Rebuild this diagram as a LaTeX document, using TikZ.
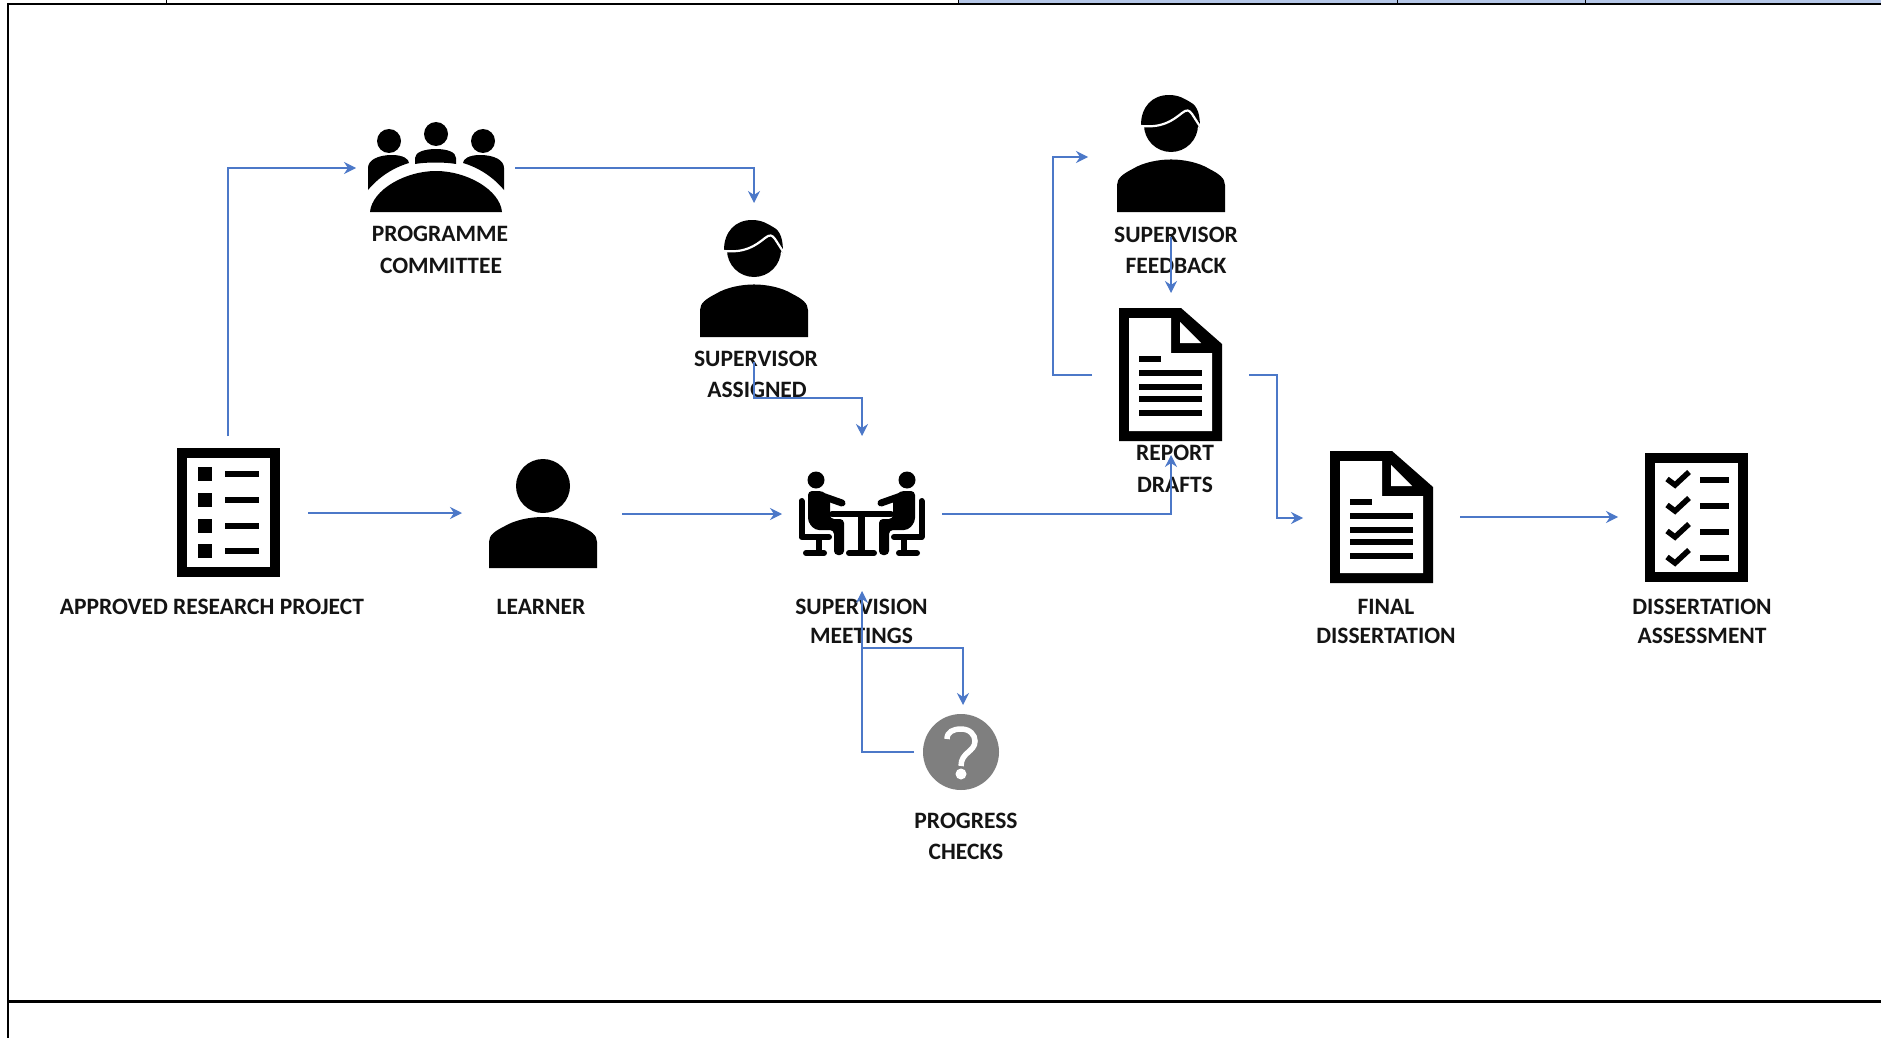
\documentclass[tikz,border=0pt]{standalone}
\usepackage{fontspec}
\setmainfont{Carlito}
\usetikzlibrary{arrows.meta}
\definecolor{linkblue}{HTML}{4C78C8}
\definecolor{headblue}{HTML}{B4C6E7}
\definecolor{markgray}{HTML}{7F7F7F}
\tikzset{
  flow/.style={draw=linkblue,line width=1.2pt,line join=miter,-{Stealth[length=12pt,width=12pt,inset=4pt]}},
  lbl/.style={anchor=base,inner sep=0pt,font=\fontsize{23.5}{26}\selectfont\bfseries,text=black!92},
  rule/.style={draw=black,line width=2.4pt},
  tick/.style={draw=black,line width=.8pt},
  seat/.style={draw=black,line width=6pt,line cap=round,line join=round}
}
\newcommand{\docicon}[3]{%
  \begin{scope}[shift={(#1,#2)}]
    \fill[black] (0,0) -- (62,0) -- (103,36) -- (103,#3) -- (0,#3) -- cycle;
    \fill[white] (10,10) -- (52,10) -- (52,45) -- (93,45) -- (93,{#3-10}) -- (10,{#3-10}) -- cycle;
    \fill[white] (61,14) -- (61,35) -- (82,35) -- cycle;
    \fill[black] (20,48) rectangle (42,54);
    \foreach \yy in {62,76,88,102} \fill[black] (20,\yy) rectangle (83,\yy+6);
  \end{scope}}
% person's shoulders: local origin is the bottom left corner, 108 wide, 51 high
\newcommand{\bodyshape}[3]{%
  \begin{scope}[shift={(#1,#2)},yscale=#3]
    \fill[black] (0,0) -- (0,-26) .. controls (0,-33) and (6,-37) .. (16,-42)
      .. controls (26,-48) and (41,-51) .. (54,-51)
      .. controls (67,-51) and (82,-48) .. (92,-42)
      .. controls (102,-37) and (108,-33) .. (108,-26) -- (108,0) -- cycle;
  \end{scope}}
\newcommand{\supicon}[2]{%
  \begin{scope}[shift={(#1,#2)}]
    \bodyshape{700}{337}{1.03}
    \fill[black] (754,250) circle (27);
    \fill[black] (724,250) .. controls (724,232) and (735,220) .. (752,220)
      .. controls (762,220) and (768,224) .. (773,227) .. controls (781,231) and (783,240) .. (783,253)
      -- (770,240) -- (745,250) -- cycle;
    \draw[white,line width=2.2pt] (724,251) .. controls (745,253) and (755,246) .. (765,238)
      .. controls (770,234) and (772,235) .. (775,239) -- (784,253);
  \end{scope}}
\newcommand{\listframe}[2]{%
  \fill[black] (#1,#2) rectangle ++(103,129);
  \fill[white] ({#1+10},{#2+10}) rectangle ++(83,109);}
\begin{document}
\begin{tikzpicture}[x=1pt,y=-1pt]
\useasboundingbox (0,0) rectangle (1881,1038);
\fill[white] (0,0) rectangle (1881,1038);

% table remains
\fill[headblue] (958,0) rectangle (1881,3);
\foreach \xx in {166,958,1397,1585} \draw[tick] (\xx,0) -- (\xx,3);
\draw[rule] (7,4) -- (1881,4);
\draw[rule] (7,1001.5) -- (1881,1001.5);
\draw[rule] (7.8,3) -- (7.8,1038);

% approved project icon
\listframe{177}{448}
\foreach \yy in {467,493,519,544}{
  \fill[black] (198,\yy) rectangle ++(14,14);
  \fill[black] (225,\yy+4) rectangle ++(34,6);}

% assessment icon
\listframe{1645}{453}
\foreach \yy in {479,505,531,557}{
  \draw[black,line width=5.5pt] (1667,\yy) -- (1675,\yy+6) -- (1689,\yy-7);
  \fill[black] (1700,\yy-2) rectangle ++(29,6);}

% documents
\docicon{1119}{308}{133}
\docicon{1330}{451}{132}

% people
\supicon{0}{0}
\supicon{417}{-125}
\bodyshape{489}{568}{1}
\fill[black] (543,486) circle (27);

% committee
\fill[black] (389,141) circle (12);
\fill[black] (436,134) circle (12);
\fill[black] (483,141) circle (12);
\fill[black] (370,212) .. controls (372,190) and (405,171) .. (436,171)
  .. controls (467,171) and (500,190) .. (502,212) -- cycle;
\fill[black] (415,164) -- (415,158) .. controls (415,152) and (425,149) .. (436,149)
  .. controls (447,149) and (456,152) .. (456,158) -- (456,164)
  .. controls (445,162) and (426,162) .. (415,164) -- cycle;
\foreach \sx/\off in {1/0,-1/872}{
  \begin{scope}[xshift=\off,xscale=\sx]
    \fill[black] (368,190) -- (368,168) .. controls (368,160) and (378,155) .. (392,155)
      .. controls (403,155) and (409,159) .. (409,163)
      .. controls (392,168) and (378,178) .. (368,190) -- cycle;
  \end{scope}}

% meeting icon
\foreach \sx/\off in {1/0,-1/1723}{
  \begin{scope}[xshift=\off,xscale=\sx]
    \fill[black] (816,480) circle (8.5);
    \draw[seat] (801.5,501) -- (801.5,537) -- (829,537);
    \draw[seat] (819,537) -- (819,553);
    \draw[seat] (806,553) -- (824,553);
    \fill[black,rounded corners=4pt] (808,491) -- (823,491) -- (830,498) -- (830,519) -- (844,519) -- (844,555) -- (834,555) -- (834,530) -- (815,530) -- (808,522) -- cycle;
    \draw[black,line width=7pt,line cap=round] (825,497) -- (842,503);
  \end{scope}}
\draw[seat] (832,514) -- (891,514);
\draw[black,line width=6.5pt] (861.5,514) -- (861.5,553);
\draw[seat] (849,553) -- (874,553);

% question icon
\fill[markgray] (961,752) circle (38);
\draw[white,line width=5.5pt] (947,739) .. controls (947,732) and (953,729) .. (961,729)
  .. controls (970,729) and (975,735) .. (975,741) .. controls (975,752) and (961,752) .. (961,766);
\fill[white] (961,774) circle (5.5);

% labels
\node[lbl] (nApproved) at (212,614) {APPROVED RESEARCH PROJECT};
\node[lbl] (nLearner) at (541,614) {LEARNER};
\node[lbl] (nMeetA) at (861.5,614) {SUPERVISION};
\node[lbl] (nMeetB) at (861.5,643) {MEETINGS};
\node[lbl] (nFinalA) at (1386,614) {FINAL};
\node[lbl] (nFinalB) at (1386,643) {DISSERTATION};
\node[lbl] (nAssessA) at (1702,614) {DISSERTATION};
\node[lbl] (nAssessB) at (1702,643) {ASSESSMENT};
\node[lbl] (nProgA) at (966,828) {PROGRESS};
\node[lbl] (nProgB) at (966,859) {CHECKS};
\node[lbl] (nCommA) at (440,241) {PROGRAMME};
\node[lbl] (nCommB) at (441,273) {COMMITTEE};
\node[lbl] (nSupA) at (756,366) {SUPERVISOR};
\node[lbl] (nSupB) at (757,397) {ASSIGNED};
\node[lbl] (nFeedA) at (1176,242) {SUPERVISOR};
\node[lbl] (nFeedB) at (1176,273) {FEEDBACK};
\node[lbl] (nDraftA) at (1175,460) {REPORT};
\node[lbl] (nDraftB) at (1175,492) {DRAFTS};

% connector ends
\coordinate (aUp) at (228,436);
\coordinate (cIn) at (356,168);
\coordinate (cOut) at (515,168);
\coordinate (sIn) at (754,203);
\coordinate (sOut) at (754,362);
\coordinate (mTop) at (862,436);
\coordinate (aOut) at (308,513);
\coordinate (lIn) at (462,513);
\coordinate (lOut) at (622,514);
\coordinate (mIn) at (782,514);
\coordinate (mOut) at (942,514);
\coordinate (rBot) at (1171,455);
\coordinate (fOut) at (1171,237);
\coordinate (rTop) at (1171,293);
\coordinate (rLeft) at (1092,375);
\coordinate (fIn) at (1088,157);
\coordinate (rRight) at (1249,375);
\coordinate (dIn) at (1303,518);
\coordinate (dOut) at (1460,517);
\coordinate (eIn) at (1618,517);
\coordinate (qLeft) at (914,752);
\coordinate (mBot) at (862,591);
\coordinate (mBranch) at (862,648);
\coordinate (qTop) at (963,705);

% connectors
\draw[flow] (aUp) |- (cIn);
\draw[flow] (cOut) -| (sIn);
\draw[flow] (sOut) |- (862,398) -- (mTop);
\draw[flow] (aOut) -- (lIn);
\draw[flow] (lOut) -- (mIn);
\draw[flow] (mOut) -| (rBot);
\draw[flow] (fOut) -- (rTop);
\draw[flow] (rLeft) -- (1053,375) |- (fIn);
\draw[flow] (rRight) -- (1277,375) |- (dIn);
\draw[flow] (dOut) -- (eIn);
\draw[flow] (qLeft) -| (mBot);
\draw[flow] (mBranch) -| (qTop);
\end{tikzpicture}
\end{document}
